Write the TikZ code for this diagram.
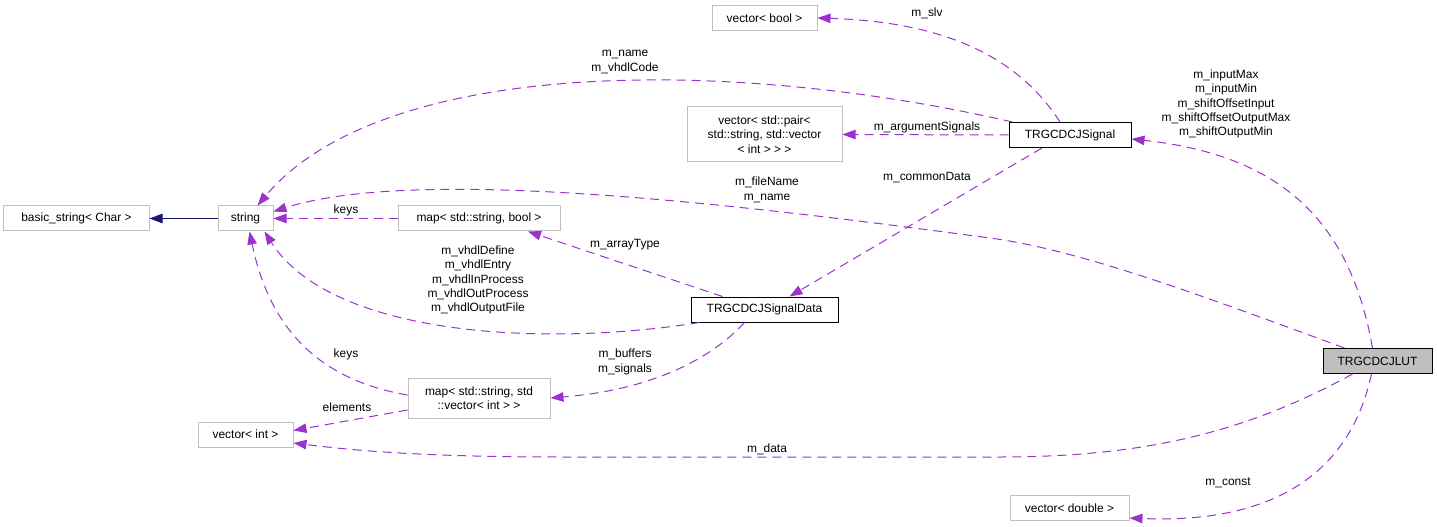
\documentclass[tikz,border=0pt]{standalone}
\usepackage{fontspec}
\setmainfont{Liberation Sans}
\usetikzlibrary{arrows.meta}
\definecolor{edgepurple}{HTML}{9A32CD}
\definecolor{boxgray}{HTML}{BFBFBF}
\definecolor{inhnavy}{HTML}{191970}

\begin{document}
\begin{tikzpicture}[x=1bp,y=-1bp,>={Triangle[length=13bp,width=9.5bp]},
  every node/.style={font=\fontsize{12}{14.5}\selectfont},
  cls/.style={draw=boxgray,line width=1bp,inner sep=0pt,minimum height=25bp,align=center},
  docbox/.style={cls,draw=black},
  member/.style={->,edgepurple,line width=1bp,dash pattern=on 9bp off 6bp},
  inherit/.style={->,inhnavy,line width=1bp},
  lbl/.style={align=center,inner sep=0pt}]
 \useasboundingbox (0,0) rectangle (1437,527);
 \node[cls,minimum width=145bp] (basicstr) at (76.5,218.5) {basic\_string< Char >};
 \node[cls,minimum width=55bp] (str) at (245.5,218.5) {string};
 \node[cls,minimum width=162bp] (mapbool) at (479,218.5) {map< std::string, bool >};
 \node[cls,minimum width=142bp,minimum height=40bp] (mapvec) at (479,398)
    {map< std::string, std\\::vector< int > >};
 \node[cls,minimum width=95bp] (vecint) at (245.5,434.5) {vector< int >};
 \node[cls,minimum width=105bp] (vecbool) at (764.5,18) {vector< bool >};
 \node[cls,minimum width=155bp,minimum height=55bp] (vecpair) at (764.5,134.5)
    {vector< std::pair<\\ std::string, std::vector\\< int > > >};
 \node[docbox,minimum width=122bp] (signal) at (1070,135) {TRGCDCJSignal};
 \node[docbox,minimum width=147bp] (sigdata) at (764.5,309.5) {TRGCDCJSignalData};
 \node[docbox,fill=boxgray,minimum width=109bp] (lut) at (1377.5,361) {TRGCDCJLUT};
 \node[cls,minimum width=119bp] (vecdouble) at (1069.5,508) {vector< double >};

 \node[lbl] (lkeysa) at (346,210) {keys};
 \node[lbl] (lname) at (625,62) {m\_name\\m\_vhdlCode};
 \node[lbl] (lfile) at (767,190) {m\_fileName\\m\_name};
 \node[lbl] (lvhdl) at (478,280)
    {m\_vhdlDefine\\m\_vhdlEntry\\m\_vhdlInProcess\\m\_vhdlOutProcess\\m\_vhdlOutputFile};
 \node[lbl] (lkeysb) at (346,354) {keys};
 \node[lbl] (lelem) at (347,407) {elements};
 \node[lbl] (ldata) at (767,449) {m\_data};
 \node[lbl] (lconst) at (1228,483) {m\_const};
 \node[lbl] (linput) at (1226,104)
    {m\_inputMax\\m\_inputMin\\m\_shiftOffsetInput\\m\_shiftOffsetOutputMax\\m\_shiftOutputMin};
 \node[lbl] (lslv) at (927,13) {m\_slv};
 \node[lbl] (larg) at (927,127) {m\_argumentSignals};
 \node[lbl] (lcommon) at (927,178) {m\_commonData};
 \node[lbl] (larray) at (625,245) {m\_arrayType};
 \node[lbl] (lbuf) at (625,362) {m\_buffers\\m\_signals};

 \draw[inherit] (str) -- (basicstr);
 \draw[member] (mapbool) -- (str);
 \draw[member] ([xshift=4bp]signal.north west) .. controls (720,55) and (380,60)
    .. ([xshift=12bp]str.north);
 \draw[member] ([xshift=22bp]lut.north west) .. controls (1200,295) and (1080,250) .. (990,238)
    .. controls (750,206) and (420,165) .. ([yshift=-6bp]str.north east);
 \draw[member] ([xshift=9bp]sigdata.south west) .. controls (540,348) and (330,335)
    .. ([xshift=-9bp]str.south east);
 \draw[member] ([yshift=3bp]mapvec.west) .. controls (320,380) and (270,330)
    .. ([xshift=4bp]str.south);
 \draw[member] ([yshift=-12bp]mapvec.west) -- ([yshift=4bp]vecint.east);
 \draw[member] ([xshift=-25bp]lut.south) .. controls (1250,430) and (1150,457) .. (1000,457)
    -- (560,457) .. controls (420,457) and (350,450) .. ([yshift=-8.5bp]vecint.east);
 \draw[member] ([xshift=-6bp]lut.south) .. controls (1355,450) and (1300,525)
    .. ([yshift=-10bp]vecdouble.east);
 \draw[member] ([xshift=-5bp]lut.north) .. controls (1350,220) and (1280,155)
    .. ([yshift=-4bp]signal.east);
 \draw[member] ([xshift=-10bp]signal.north) .. controls (1020,60) and (950,22) .. (vecbool.east);
 \draw[member] (signal.west) -- (vecpair.east);
 \draw[member] ([xshift=-28bp]signal.south) -- ([xshift=25bp]sigdata.north);
 \draw[member] ([xshift=-42bp]sigdata.north) -- ([xshift=49bp]mapbool.south);
 \draw[member] ([xshift=-20bp]sigdata.south) .. controls (710,360) and (650,390) .. (mapvec.east);
\end{tikzpicture}
\end{document}
